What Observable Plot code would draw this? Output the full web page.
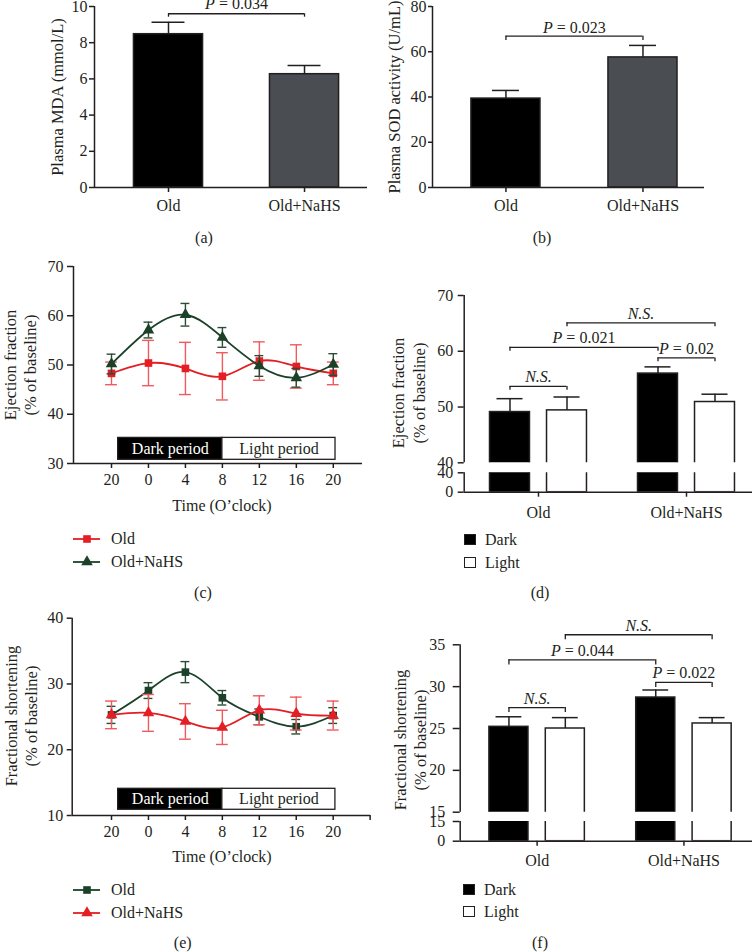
<!DOCTYPE html>
<html>
<head>
<meta charset="utf-8">
<script src="https://cdn.jsdelivr.net/npm/d3@7"></script>
<script src="https://cdn.jsdelivr.net/npm/@observablehq/plot@0.6"></script>
<style>
html,body{margin:0;padding:0;background:#fff;}
#fig{position:relative;width:754px;height:952px;overflow:hidden;background:#fff;font-family:"Liberation Serif","Times New Roman",serif;color:#231f20;}
#fig svg{position:absolute;overflow:visible;}
.t{position:absolute;font-size:16px;line-height:1;white-space:nowrap;transform:translate(-50%,-50%);}
.tl{position:absolute;font-size:16px;line-height:1;white-space:nowrap;transform:translate(0,-50%);}
.yt{position:absolute;font-size:16.5px;line-height:1;white-space:nowrap;transform:translate(-50%,-50%) rotate(-90deg);}
.sw{position:absolute;width:10px;height:9px;border:1.5px solid #231f20;}
</style>
</head>
<body>
<div id="fig"></div>
<script>
// ---------------- data ----------------
const groups = ["Old", "Old+NaHS"];
const mdaMean = [8.47, 6.26];
const mdaSem = [0.66, 0.48];
const sodMean = [39.3, 57.5];
const sodSem = [3.6, 5.3];

const hourLabels = ["20", "0", "4", "8", "12", "16", "20"];
const efOld = [48.3, 50.4, 49.3, 47.7, 50.8, 49.7, 48.3];
const efOldSem = [2.3, 4.6, 5.3, 4.8, 3.9, 4.4, 2.3];
const efNaHS = [50.2, 57.1, 60.2, 55.6, 49.8, 47.4, 50.1];
const efNaHSSem = [2.0, 1.6, 2.3, 2.0, 2.1, 1.9, 2.2];
const fsOld = [25.3, 29.0, 31.8, 27.9, 25.0, 23.5, 25.2];
const fsOldSem = [1.3, 1.2, 1.6, 1.1, 1.2, 1.1, 1.2];
const fsNaHS = [25.3, 25.6, 24.3, 23.4, 26.0, 25.5, 25.2];
const fsNaHSSem = [2.1, 2.8, 2.7, 2.6, 2.2, 2.5, 2.2];

const periodLabels = ["Dark period", "Light period"];
const periodFrom = [0.18, 3.0];   // in hour-tick index units
const periodTo = [3.0, 6.06];

const phases = ["Dark", "Light"];
const efDark = [49.1, 56.0], efDarkSem = [2.4, 1.2];
const efLight = [49.4, 50.9], efLightSem = [2.4, 1.4];
const fsDark = [25.2, 28.7], fsDarkSem = [1.2, 0.9];
const fsLight = [25.0, 25.6], fsLightSem = [1.3, 0.7];

const mdaSig = [{g1: 0, g2: 1, y: 9.6, text: "P = 0.034"}];
const sodSig = [{g1: 0, g2: 1, y: 66.9, text: "P = 0.023"}];
const efSig = [
  {from: [0, "Dark"], to: [0, "Light"], y: 53.7, text: "N.S."},
  {from: [0, "Dark"], to: [1, "Dark"], y: 60.7, text: "P = 0.021"},
  {from: [1, "Dark"], to: [1, "Light"], y: 58.8, text: "P = 0.02"},
  {from: [0, "Light"], to: [1, "Light"], y: 65.1, text: "N.S."}
];
const fsSig = [
  {from: [0, "Dark"], to: [0, "Light"], y: 27.5, text: "N.S."},
  {from: [0, "Dark"], to: [1, "Dark"], y: 33.2, text: "P = 0.044"},
  {from: [1, "Dark"], to: [1, "Light"], y: 30.5, text: "P = 0.022"},
  {from: [0, "Light"], to: [1, "Light"], y: 36.2, text: "N.S."}
];

// ---------------- style ----------------
const INK = "#231f20";
const FONT = "'Liberation Serif','Times New Roman',serif";
const GROUP_FILLS = ["#000000", "#4a4d51"];
const PHASE_FILLS = {Dark: "#000000", Light: "#ffffff"};
const RED = "#e31e24", RED_ERR = "#ee5a5d";
const GREEN = "#1b4229", GREEN_ERR = "#2a4d35";
const baseStyle = {fontFamily: FONT, fontSize: "16px", color: INK, background: "transparent", overflow: "visible"};
const fig = document.getElementById("fig");

function mount(svg, left, top) {
  svg.style.left = left + "px";
  svg.style.top = top + "px";
  d3.select(svg).selectAll("text").each(function () {
    const t = this.textContent;
    if (t === "N.S.") this.setAttribute("font-style", "italic");
    else if (t.startsWith("P = ")) {
      this.textContent = "";
      d3.select(this).append("tspan").attr("font-style", "italic").text("P");
      d3.select(this).append("tspan").text(t.slice(1));
    }
  });
  fig.appendChild(svg);
}
function txt(cls, text, x, y) {
  const d = document.createElement("div");
  d.className = cls; d.textContent = text;
  d.style.left = x + "px"; d.style.top = y + "px";
  fig.appendChild(d);
}
function bracketMarks(sig, drop, dy) {
  return [
    Plot.ruleY(sig, {y: "y", x1: "x1", x2: "x2", stroke: INK, strokeWidth: 1.3}),
    Plot.ruleX(sig, {x: "x1", y1: "y", y2: d => d.y - drop, stroke: INK, strokeWidth: 1.3}),
    Plot.ruleX(sig, {x: "x2", y1: "y", y2: d => d.y - drop, stroke: INK, strokeWidth: 1.3}),
    Plot.text(sig, {x: d => (d.x1 + d.x2) / 2, y: "y", text: "text", lineAnchor: "bottom", dy: dy, fontSize: 16, fill: INK})
  ];
}

// ---------------- (a), (b) simple bars ----------------
function simpleBar(o) {
  const rows = o.means.map((m, i) => ({i, mean: m, hi: m + o.sems[i], fill: GROUP_FILLS[i]}));
  const sig = o.sig.map(s => ({x1: s.g1, x2: s.g2, y: s.y, text: s.text}));
  return Plot.plot({
    width: o.width, height: o.height,
    marginLeft: o.ml, marginRight: o.mr, marginTop: o.mt, marginBottom: o.mb,
    x: {type: "linear", domain: o.xDomain},
    y: {domain: o.yDomain},
    color: {type: "identity"},
    style: baseStyle,
    marks: [
      Plot.rect(rows, {x1: d => d.i - o.half, x2: d => d.i + o.half, y1: 0, y2: "mean", fill: "fill", stroke: INK, strokeWidth: 1.5}),
      Plot.ruleX(rows, {x: "i", y1: "mean", y2: "hi", stroke: INK, strokeWidth: 1.5}),
      Plot.ruleY(rows, {y: "hi", x1: d => d.i - o.cap, x2: d => d.i + o.cap, stroke: INK, strokeWidth: 1.5}),
      Plot.ruleY([o.yDomain[0]], {stroke: INK, strokeWidth: 1.5}),
      Plot.ruleX([o.xDomain[0]], {stroke: INK, strokeWidth: 1.5}),
      Plot.axisY({ticks: o.yTicks, tickSize: o.yTick, tickPadding: o.yPad, fontSize: 16, strokeWidth: 1.5, label: null}),
      Plot.axisX({ticks: [0, 1], tickFormat: i => groups[i], tickSize: 5, tickPadding: 7, fontSize: 16, strokeWidth: 1.5, label: null}),
      ...bracketMarks(sig, o.drop, o.dy)
    ]
  });
}

mount(simpleBar({
  means: mdaMean, sems: mdaSem, sig: mdaSig,
  width: 377, height: 230, ml: 94, mr: 10, mt: 6, mb: 43,
  xDomain: [-0.544, 1.463], yDomain: [0, 10], yTicks: [0, 2, 4, 6, 8, 10],
  half: 0.254, cap: 0.121, drop: 0.19, dy: -5, yTick: 5, yPad: 2
}), 0, 0);

mount(simpleBar({
  means: sodMean, sems: sodSem, sig: sodSig,
  width: 377, height: 230, ml: 55, mr: 50, mt: 6, mb: 43,
  xDomain: [-0.536, 1.449], yDomain: [0, 80], yTicks: [0, 20, 40, 60, 80],
  half: 0.252, cap: 0.0985, drop: 1.9, dy: -3, yTick: 4, yPad: 2
}), 377, 0);

// ---------------- (c), (e) time courses ----------------
function seriesRows(values, sems) {
  return values.map((v, i) => ({i, v, lo: v - sems[i], hi: v + sems[i]}));
}
function linePanel(o) {
  const periods = periodLabels.map((label, k) => ({
    label, x1: periodFrom[k], x2: periodTo[k],
    fill: k === 0 ? "#000000" : "#ffffff", tfill: k === 0 ? "#ffffff" : INK
  }));
  const seriesMarks = o.series.flatMap(s => {
    const rows = seriesRows(s.values, s.sems);
    return [
      Plot.ruleX(rows, {x: "i", y1: "lo", y2: "hi", stroke: s.err, strokeWidth: 1.4}),
      Plot.ruleY(rows, {y: "hi", x1: d => d.i - s.cap, x2: d => d.i + s.cap, stroke: s.err, strokeWidth: 1.4}),
      Plot.ruleY(rows, {y: "lo", x1: d => d.i - s.cap, x2: d => d.i + s.cap, stroke: s.err, strokeWidth: 1.4}),
      Plot.line(rows, {x: "i", y: "v", curve: "natural", stroke: s.color, strokeWidth: 1.8}),
      Plot.dot(rows, {x: "i", y: "v", symbol: s.symbol, r: s.r, fill: s.color, stroke: "none"})
    ];
  });
  return Plot.plot({
    width: o.width, height: o.height,
    marginLeft: o.ml, marginRight: o.mr, marginTop: o.mt, marginBottom: o.mb,
    x: {type: "linear", domain: o.xDomain},
    y: {domain: o.yDomain},
    color: {type: "identity"},
    style: baseStyle,
    marks: [
      Plot.rect(periods, {x1: "x1", x2: "x2", y1: o.box[0], y2: o.box[1], fill: "fill", stroke: INK, strokeWidth: 1.3}),
      Plot.text(periods, {x: d => (d.x1 + d.x2) / 2, y: (o.box[0] + o.box[1]) / 2, text: "label", fill: "tfill", fontSize: 16}),
      ...seriesMarks,
      Plot.ruleY([o.yDomain[0]], {stroke: INK, strokeWidth: 1.5}),
      Plot.ruleX([o.xDomain[0]], {stroke: INK, strokeWidth: 1.5}),
      Plot.axisY({ticks: o.yTicks, tickSize: o.yTick, tickPadding: o.yPad, fontSize: 16, strokeWidth: 1.5, label: null}),
      Plot.axisX({ticks: o.xTicks, tickFormat: i => hourLabels[i] ?? "", tickSize: 5, tickPadding: 5, fontSize: 16, strokeWidth: 1.5, label: null})
    ]
  });
}

mount(linePanel({
  width: 377, height: 290, ml: 73, mr: 15, mt: 36, mb: 57,
  xDomain: [-1.028, 6.79], yDomain: [30, 70], yTicks: [30, 40, 50, 60, 70],
  xTicks: [0, 1, 2, 3, 4, 5, 6], box: [30.75, 35.2], yTick: 6, yPad: 4,
  series: [
    {values: efOld, sems: efOldSem, color: RED, err: RED_ERR, symbol: "square", r: 4.3, cap: 0.16},
    {values: efNaHS, sems: efNaHSSem, color: GREEN, err: GREEN_ERR, symbol: "triangle", r: 4.3, cap: 0.12}
  ]
}), 0, 230);

mount(linePanel({
  width: 377, height: 270, ml: 71.7, mr: 7, mt: 17.7, mb: 55,
  xDomain: [-1.064, 7.01], yDomain: [10, 40], yTicks: [10, 20, 30, 40],
  xTicks: [0, 1, 2, 3, 4, 5, 6, 7], box: [10.87, 14.06], yTick: 5, yPad: 4,
  series: [
    {values: fsOld, sems: fsOldSem, color: GREEN, err: GREEN_ERR, symbol: "square", r: 4.3, cap: 0.12},
    {values: fsNaHS, sems: fsNaHSSem, color: RED, err: RED_ERR, symbol: "triangle", r: 4.3, cap: 0.16}
  ]
}), 0, 600);

// ---------------- (d), (f) grouped bars with broken axis ----------------
function groupedRows(dark, darkSem, light, lightSem, off) {
  return groups.flatMap((g, gi) => phases.map(ph => {
    const m = ph === "Dark" ? dark[gi] : light[gi];
    const s = ph === "Dark" ? darkSem[gi] : lightSem[gi];
    return {pos: gi + (ph === "Dark" ? -off : off), mean: m, hi: m + s, fill: PHASE_FILLS[ph]};
  }));
}
function groupedPart(o) {
  const rows = groupedRows(o.dark, o.darkSem, o.light, o.lightSem, o.off);
  const marks = [
    Plot.rect(rows, {x1: d => d.pos - o.half, x2: d => d.pos + o.half, y1: 0, y2: "mean", fill: "fill", stroke: INK, strokeWidth: 1.5, clip: true}),
    Plot.ruleX([o.xDomain[0]], {stroke: INK, strokeWidth: 1.5}),
    Plot.axisY({ticks: o.yTicks, tickSize: o.yTick, tickPadding: o.yPad, fontSize: 16, strokeWidth: 1.5, label: null})
  ];
  if (o.upper) {
    const pos = ([g, ph]) => g + (ph === "Dark" ? -o.off : o.off);
    const sig = o.sig.map(s => ({x1: pos(s.from), x2: pos(s.to), y: s.y, text: s.text}));
    marks.push(
      Plot.ruleX(rows, {x: "pos", y1: "mean", y2: "hi", stroke: INK, strokeWidth: 1.5}),
      Plot.ruleY(rows, {y: "hi", x1: d => d.pos - o.cap, x2: d => d.pos + o.cap, stroke: INK, strokeWidth: 1.5}),
      ...bracketMarks(sig, o.drop, -4)
    );
  } else {
    marks.push(
      Plot.ruleY([0], {stroke: INK, strokeWidth: 1.5}),
      Plot.axisX({ticks: [0, 1], tickFormat: i => groups[i], tickSize: 5, tickPadding: o.xPad, fontSize: 16, strokeWidth: 1.5, label: null})
    );
  }
  return Plot.plot({
    width: o.width, height: o.height,
    marginLeft: o.ml, marginRight: o.mr, marginTop: o.mt, marginBottom: o.mb,
    x: {type: "linear", domain: o.xDomain, axis: null},
    y: {domain: o.yDomain, axis: null},
    color: {type: "identity"},
    style: baseStyle,
    marks
  });
}

const dCommon = {dark: efDark, darkSem: efDarkSem, light: efLight, lightSem: efLightSem,
  width: 377, ml: 86.7, mr: 2, xDomain: [-0.502, 1.446], off: 0.1926, half: 0.135, cap: 0.088,
  yTick: 6, yPad: 5};
mount(groupedPart({...dCommon, upper: true, height: 240, mt: 65, mb: 7.7,
  yDomain: [40, 70], yTicks: [40, 50, 60, 70], sig: efSig, drop: 0.7}), 377, 230);
mount(groupedPart({...dCommon, upper: false, height: 60, mt: 7.3, mb: 33.3,
  yDomain: [0, 40], yTicks: [0, 40], xPad: 9}), 377, 465);

const fCommon = {dark: fsDark, darkSem: fsDarkSem, light: fsLight, lightSem: fsLightSem,
  width: 377, ml: 82.7, mr: 2, xDomain: [-0.524, 1.467], off: 0.192, half: 0.133, cap: 0.088,
  yTick: 7, yPad: 8};
mount(groupedPart({...fCommon, upper: true, height: 215, mt: 44.3, mb: 3.3,
  yDomain: [15, 35], yTicks: [15, 20, 25, 30, 35], sig: fsSig, drop: 0.6}), 377, 600);
mount(groupedPart({...fCommon, upper: false, height: 60, mt: 6, mb: 34.3,
  yDomain: [0, 15], yTicks: [0, 15], xPad: 8}), 377, 815);

// ---------------- texts: axis titles, panel tags, legends ----------------
txt("yt", "Plasma MDA (mmol/L)", 58, 96.7);
txt("yt", "Plasma SOD activity (U/mL)", 395.3, 96.7);
txt("yt", "Ejection fraction", 10.5, 365);
txt("yt", "(% of baseline)", 30.5, 365);
txt("yt", "Ejection fraction", 398.5, 393);
txt("yt", "(% of baseline)", 420, 393);
txt("yt", "Fractional shortening", 11.5, 716);
txt("yt", "(% of baseline)", 32, 716);
txt("yt", "Fractional shortening", 401, 740);
txt("yt", "(% of baseline)", 420.5, 740);

txt("t", "Time (O\u2019clock)", 222, 506);
txt("t", "Time (O\u2019clock)", 222, 857);

txt("t", "(a)", 204, 237.7);
txt("t", "(b)", 542, 237.7);
txt("t", "(c)", 203, 593);
txt("t", "(d)", 540, 593);
txt("t", "(e)", 182.7, 943);
txt("t", "(f)", 540, 943);

function lineLegend(x, y, color, symbolType, label) {
  const svg = d3.create("svg").attr("width", 30).attr("height", 14)
    .style("left", x + "px").style("top", (y - 7) + "px");
  svg.append("line").attr("x1", 0).attr("x2", 27).attr("y1", 7).attr("y2", 7)
    .attr("stroke", color).attr("stroke-width", 1.8);
  svg.append("path").attr("transform", "translate(14,7)")
    .attr("d", d3.symbol(symbolType, 58)()).attr("fill", color);
  fig.appendChild(svg.node());
  txt("tl", label, x + 38, y);
}
lineLegend(73, 539.3, RED, d3.symbolSquare, groups[0]);
lineLegend(73, 562.3, GREEN, d3.symbolTriangle, groups[1]);
lineLegend(73, 890, GREEN, d3.symbolSquare, groups[0]);
lineLegend(73, 912.7, RED, d3.symbolTriangle, groups[1]);

function boxLegend(x, y, fill, label) {
  const d = document.createElement("div");
  d.className = "sw"; d.style.left = x + "px"; d.style.top = (y - 6) + "px"; d.style.background = fill;
  fig.appendChild(d);
  txt("tl", label, x + 21, y);
}
boxLegend(464, 540.3, PHASE_FILLS.Dark, phases[0]);
boxLegend(464, 562.7, PHASE_FILLS.Light, phases[1]);
boxLegend(463, 889.5, PHASE_FILLS.Dark, phases[0]);
boxLegend(463, 912, PHASE_FILLS.Light, phases[1]);
</script>
</body>
</html>
